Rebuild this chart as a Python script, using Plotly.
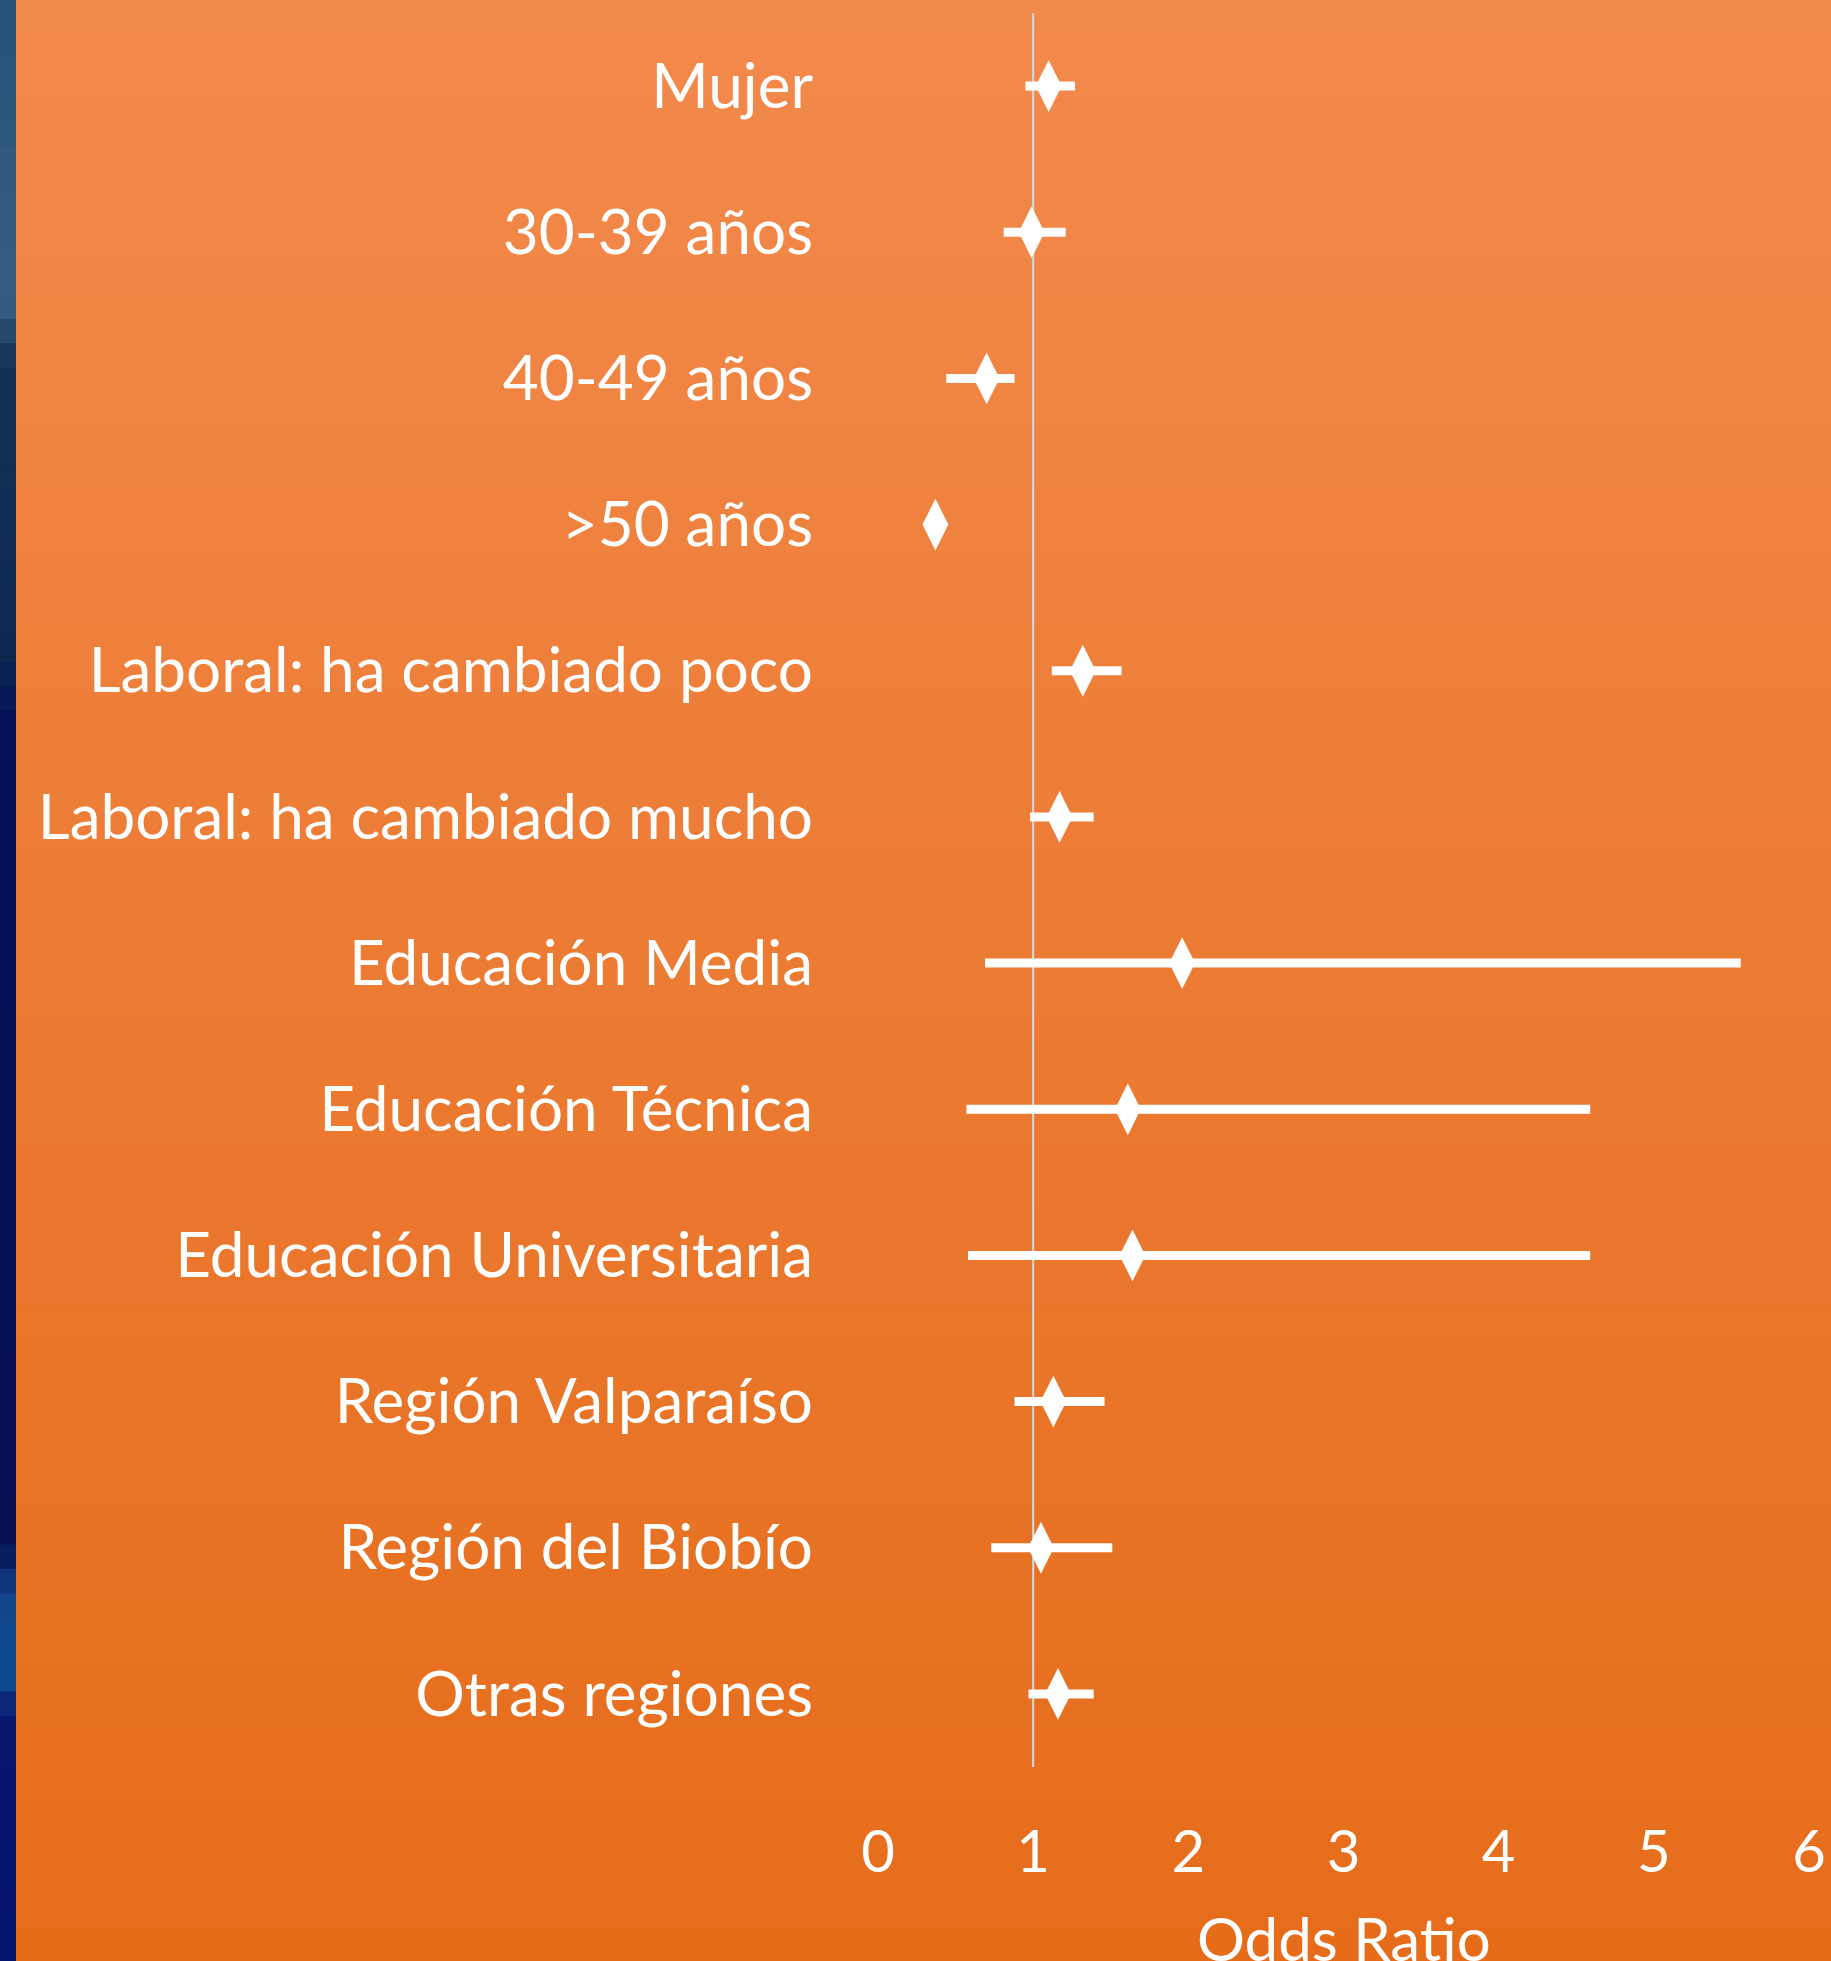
import plotly.graph_objects as go

categories = ["Mujer", "30-39 años", "40-49 años", ">50 años",
              "Laboral: ha cambiado poco", "Laboral: ha cambiado mucho",
              "Educación Media", "Educación Técnica", "Educación Universitaria",
              "Región Valparaíso", "Región del Biobío", "Otras regiones"]
odds_ratio = [1.10, 0.99, 0.70, 0.37, 1.32, 1.17, 1.96, 1.61, 1.64, 1.13, 1.05, 1.16]
ci_low =     [0.95, 0.81, 0.44, 0.31, 1.12, 0.98, 0.69, 0.57, 0.58, 0.88, 0.73, 0.97]
ci_high =    [1.27, 1.21, 0.88, 0.43, 1.57, 1.39, 5.56, 4.59, 4.59, 1.46, 1.51, 1.39]
x_ticks = [0, 1, 2, 3, 4, 5, 6]
x_title = "Odds Ratio"

W, H = 1831, 1961
L, R, T, B = 878, 22, 13, 194
pw, ph = W - L - R, H - T - B

def px_to_paper_x(px):
    return (px - L) / pw

def px_to_paper_y(py):
    return (H - B - py) / ph

def lerp(c1, c2, t):
    return "rgb(%d,%d,%d)" % tuple(round(a + (b - a) * t) for a, b in zip(c1, c2))

shapes = []
n = 60
top_c, bot_c = (242, 138, 76), (230, 108, 26)
for i in range(n):
    y0, y1 = i * H / n, (i + 1) * H / n + 1
    shapes.append(dict(type="rect", xref="paper", yref="paper", layer="below",
                       x0=px_to_paper_x(0), x1=px_to_paper_x(W),
                       y0=px_to_paper_y(y1), y1=px_to_paper_y(y0),
                       line=dict(width=0), fillcolor=lerp(top_c, bot_c, i / (n - 1))))

# left blue strip
blue_stops = [(0, (40, 82, 120)), (0.15, (55, 95, 130)), (0.18, (20, 50, 85)),
              (0.33, (15, 40, 80)), (0.37, (5, 15, 90)), (0.79, (5, 15, 80)),
              (0.82, (20, 70, 140)), (0.86, (15, 75, 145)), (0.88, (8, 22, 110)),
              (1, (5, 20, 110))]
m = 80
for i in range(m):
    t = i / (m - 1)
    for j in range(len(blue_stops) - 1):
        if blue_stops[j][0] <= t <= blue_stops[j + 1][0]:
            a, b = blue_stops[j], blue_stops[j + 1]
            col = lerp(a[1], b[1], (t - a[0]) / (b[0] - a[0]))
            break
    y0, y1 = i * H / m, (i + 1) * H / m + 1
    shapes.append(dict(type="rect", xref="paper", yref="paper", layer="below",
                       x0=px_to_paper_x(0), x1=px_to_paper_x(16),
                       y0=px_to_paper_y(y1), y1=px_to_paper_y(y0),
                       line=dict(width=0), fillcolor=col))

# reference line at OR = 1
shapes.append(dict(type="line", xref="x", yref="paper", layer="below",
                   x0=1, x1=1, y0=0, y1=1, line=dict(color="#D9D9D9", width=2)))

fig = go.Figure()
fig.add_trace(go.Scatter(
    x=odds_ratio, y=categories, mode="markers",
    marker=dict(symbol="diamond-tall", size=37, color="white", line=dict(width=0)),
    error_x=dict(type="data", symmetric=False,
                 array=[h - o for h, o in zip(ci_high, odds_ratio)],
                 arrayminus=[o - l for o, l in zip(odds_ratio, ci_low)],
                 color="white", thickness=9, width=0),
    showlegend=False, hoverinfo="x+y"))

font_family = "Lato, 'Open Sans', sans-serif"
fig.update_layout(
    width=W, height=H,
    margin=dict(l=L, r=R, t=T, b=B, pad=0, autoexpand=False),
    paper_bgcolor="#E66C1A", plot_bgcolor="rgba(0,0,0,0)",
    shapes=shapes,
    font=dict(family=font_family, color="white"),
    xaxis=dict(range=[0, 6], tickvals=x_ticks, showgrid=False, zeroline=False,
               showline=False, ticks="", tickfont=dict(size=58, color="white"),
               ticklabelstandoff=46, automargin=False),
    yaxis=dict(categoryorder="array", categoryarray=categories, range=[11.5, -0.5],
               showgrid=False, zeroline=False, showline=False, ticks="", automargin=False,
               tickfont=dict(size=62, color="white"), ticklabelstandoff=64),
    annotations=[dict(text=x_title, xref="x", yref="paper", x=3, y=px_to_paper_y(1900),
                      xanchor="center", yanchor="top", showarrow=False,
                      font=dict(size=60, color="white", family=font_family))],
)
fig.write_html("out.html", config={"displayModeBar": False},
               post_script="document.body.style.margin='0';")
